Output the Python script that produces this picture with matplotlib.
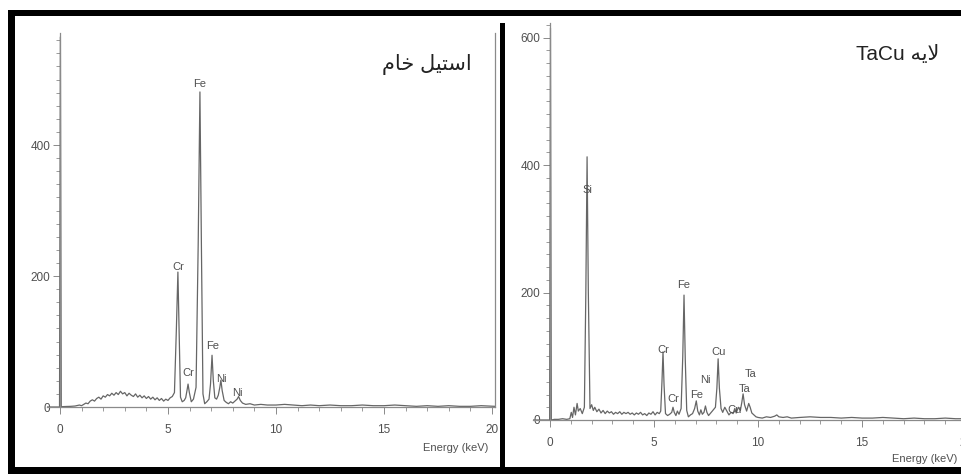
import matplotlib
matplotlib.use("Agg")
import matplotlib.pyplot as plt
from matplotlib.patches import Rectangle
from matplotlib.ticker import MultipleLocator

plt.rcParams["font.family"] = ["Liberation Sans", "DejaVu Sans"]

# --- raw steel spectrum (energy in keV, counts) ---
steel_keV = [
    -0.6, -0.02, 0.02, 0.06, 0.1, 0.3, 0.5, 0.7, 0.9, 1.0, 1.1, 1.2, 1.3, 1.4,
    1.5, 1.6, 1.7, 1.8, 1.9, 2.0, 2.1, 2.2, 2.3, 2.4, 2.5, 2.6, 2.7, 2.8, 2.9,
    3.0, 3.1, 3.2, 3.3, 3.4, 3.5, 3.6, 3.7, 3.8, 3.9, 4.0, 4.1, 4.2, 4.3, 4.4,
    4.5, 4.6, 4.7, 4.8, 4.9, 5.0, 5.1, 5.2, 5.3, 5.39, 5.46, 5.52, 5.58, 5.66,
    5.75, 5.82, 5.88, 5.93, 5.99, 6.08, 6.18, 6.3, 6.4, 6.48, 6.55, 6.62, 6.7,
    6.8, 6.9, 6.97, 7.04, 7.1, 7.17, 7.25, 7.33, 7.4, 7.45, 7.51, 7.6, 7.7, 7.8,
    7.9, 8.0, 8.1, 8.2, 8.27, 8.35, 8.45, 8.6, 8.8, 9.0, 9.3, 9.6, 10.0, 10.4,
    10.8, 11.2, 11.6, 12.0, 12.5, 13.0, 13.5, 14.0, 14.5, 15.0, 15.5, 16.0,
    16.5, 17.0, 17.5, 18.0, 18.5, 19.0, 19.5, 20.14,
]
steel_counts = [
    0, 0, 565, 0, 0.5, 0.8, 1.0, 1.5, 3, 2, 4, 6, 5, 9,
    11, 9, 13, 15, 12, 17, 15, 19, 17, 21, 18, 22, 19, 24, 20,
    22, 17, 21, 18, 16, 20, 15, 18, 14, 17, 13, 16, 12, 15, 11,
    14, 10, 13, 9, 12, 10, 14, 16, 22, 120, 206, 110, 15, 8,
    10, 14, 25, 35, 22, 8, 12, 30, 250, 481, 240, 20, 5,
    8, 12, 35, 79, 40, 14, 12, 18, 30, 41, 25, 10, 7, 5,
    8, 6, 9, 12, 16, 10, 6, 4, 5, 3, 4, 3, 3, 4,
    3, 2, 3, 2, 3, 2, 2, 3, 2, 2, 3, 2,
    1, 2, 1, 2, 1, 1, 2, 1,
]
steel_labels = ["Fe", "Cr", "Cr", "Fe", "Ni", "Ni"]
steel_label_keV = [6.48, 5.46, 5.93, 7.08, 7.45, 8.2]
steel_label_counts = [493, 214, 52, 93, 43, 21]

# --- TaCu coating spectrum ---
tacu_keV = [
    -0.82, -0.02, 0.02, 0.06, 0.2, 0.4, 0.6, 0.8, 0.95, 1.02, 1.08, 1.15, 1.22,
    1.3, 1.36, 1.45, 1.55, 1.65, 1.72, 1.78, 1.84, 1.92, 2.0, 2.08, 2.15, 2.25,
    2.35, 2.45, 2.55, 2.65, 2.75, 2.85, 2.95, 3.05, 3.15, 3.25, 3.35, 3.45,
    3.55, 3.65, 3.75, 3.85, 3.95, 4.05, 4.15, 4.25, 4.35, 4.45, 4.55, 4.65,
    4.75, 4.85, 4.95, 5.05, 5.15, 5.25, 5.32, 5.38, 5.43, 5.48, 5.55, 5.65,
    5.75, 5.85, 5.91, 5.97, 6.05, 6.12, 6.2, 6.3, 6.38, 6.44, 6.5, 6.57, 6.65,
    6.75, 6.85, 6.95, 7.03, 7.1, 7.18, 7.25, 7.32, 7.4, 7.47, 7.54, 7.62, 7.7,
    7.8, 7.95, 8.02, 8.08, 8.14, 8.22, 8.3, 8.4, 8.5, 8.6, 8.7, 8.8, 8.88,
    8.95, 9.05, 9.15, 9.22, 9.28, 9.35, 9.45, 9.55, 9.62, 9.7, 9.8, 9.9, 10.0,
    10.2, 10.4, 10.6, 10.8, 10.9, 11.0, 11.2, 11.4, 11.6, 12.0, 12.5, 13.0,
    13.5, 14.0, 14.5, 15.0, 15.5, 16.0, 16.5, 17.0, 17.5, 18.0, 18.5, 19.0,
    19.5, 20.0, 21.0,
]
tacu_counts = [
    0, 0, 615, 0, 1, 1, 2, 1, 2, 12, 4, 20, 8,
    26, 14, 18, 10, 20, 200, 413, 200, 18, 24, 15, 20, 13,
    17, 11, 15, 10, 14, 11, 13, 9, 12, 10, 13, 9,
    12, 10, 12, 9, 11, 8, 11, 9, 12, 8, 10, 7,
    11, 9, 13, 8, 12, 10, 14, 60, 107, 55, 10, 7,
    9, 12, 20, 12, 7, 14, 9, 18, 100, 196, 95, 15, 5,
    8, 10, 18, 30, 14, 8, 16, 9, 12, 22, 12, 7, 10,
    14, 20, 50, 96, 50, 18, 12, 20, 14, 8, 12, 10, 18,
    11, 20, 15, 28, 41, 24, 14, 26, 20, 11, 8, 5, 4,
    3, 5, 4, 6, 8, 5, 4, 5, 3, 4, 5, 4,
    4, 3, 4, 3, 3, 4, 3, 2, 3, 2, 2, 3,
    2, 2, 2,
]
tacu_labels = ["Si", "Fe", "Cr", "Cu", "Ni", "Fe", "Cr", "Cu", "Ta", "Ta"]
tacu_label_keV = [1.78, 6.44, 5.43, 8.1, 7.45, 7.07, 5.91, 8.89, 9.66, 9.33]
tacu_label_counts = [361, 212, 110, 107, 63, 39, 33, 16, 72, 49]

panel_titles = ["ﻡﺎﺧ ﻞﯿﺘﺳﺍ", "TaCu ﻪﯾﻻ"]
x_label = "Energy (keV)"

W, H = 961, 474
fig = plt.figure(figsize=(W / 100, H / 100), dpi=100)
fig.patch.set_facecolor("white")

AXIS_GREY = "#8a8a8a"
LINE_GREY = "#666666"
TEXT_GREY = "#505050"


def px_axes(x0, x1, y_top, y_bot):
    return fig.add_axes([x0 / W, 1 - y_bot / H, (x1 - x0) / W, (y_bot - y_top) / H])


def style_spectrum(ax, xlim, ylim, show_right):
    ax.set_xlim(*xlim)
    ax.set_ylim(*ylim)
    ax.patch.set_alpha(0)
    ax.spines["left"].set_position(("data", 0))
    ax.spines["top"].set_visible(False)
    ax.spines["right"].set_visible(show_right)
    for s in ax.spines.values():
        s.set_color(AXIS_GREY)
        s.set_linewidth(0.9)
    ax.xaxis.set_major_locator(MultipleLocator(5))
    ax.xaxis.set_minor_locator(MultipleLocator(1))
    ax.yaxis.set_major_locator(MultipleLocator(200))
    ax.yaxis.set_minor_locator(MultipleLocator(20))
    ax.tick_params(axis="x", which="major", length=5, width=0.7, pad=7,
                   color=AXIS_GREY, labelsize=8.5, labelcolor=TEXT_GREY)
    ax.tick_params(axis="x", which="minor", length=3, width=0.6, color=AXIS_GREY)
    ax.tick_params(axis="y", which="major", length=5, width=0.7, pad=2,
                   color=AXIS_GREY, labelsize=8.5, labelcolor=TEXT_GREY)
    ax.tick_params(axis="y", which="minor", length=3, width=0.6, color=AXIS_GREY)
    ax.tick_params(right=False, top=False, which="both")


def draw_labels(ax, names, xs, ys):
    for name, x, y in zip(names, xs, ys):
        ax.text(x, y, name, ha="center", va="center", fontsize=8,
                color=TEXT_GREY)


# left panel: raw steel
ax1 = px_axes(47, 495, 33, 407)
style_spectrum(ax1, (-0.6, 20.14), (0, 571), show_right=True)
ax1.plot(steel_keV, steel_counts, color=LINE_GREY, lw=0.9)
draw_labels(ax1, steel_labels, steel_label_keV, steel_label_counts)

# right panel: TaCu layer (runs past the right edge of the figure)
ax2 = px_axes(533, 990, 23, 420)
style_spectrum(ax2, (-0.82, 21.15), (0, 623), show_right=False)
ax2.plot(tacu_keV, tacu_counts, color=LINE_GREY, lw=0.9)
draw_labels(ax2, tacu_labels, tacu_label_keV, tacu_label_counts)

# frame, divider and panel captions in pixel coordinates
ov = fig.add_axes([0, 0, 1, 1], zorder=5)
ov.set_xlim(0, W)
ov.set_ylim(H, 0)
ov.axis("off")
ov.patch.set_alpha(0)
for x, y, w, h in [(8, 10, W - 8, 6), (8, 10, 7, H - 10), (8, 467, W - 8, 7),
                   (500, 23, 5, 444)]:
    ov.add_patch(Rectangle((x, y), w, h, facecolor="black", edgecolor="none"))

ov.text(427, 64, panel_titles[0], ha="center", va="center", fontsize=15,
        color="#222222")
ov.text(898, 54, panel_titles[1], ha="center", va="center", fontsize=15,
        color="#222222")
ov.text(423, 448, x_label, ha="left", va="center", fontsize=8, color=TEXT_GREY)
ov.text(957, 459, x_label, ha="right", va="center", fontsize=8, color=TEXT_GREY)

fig.savefig("out.png", dpi=100)
